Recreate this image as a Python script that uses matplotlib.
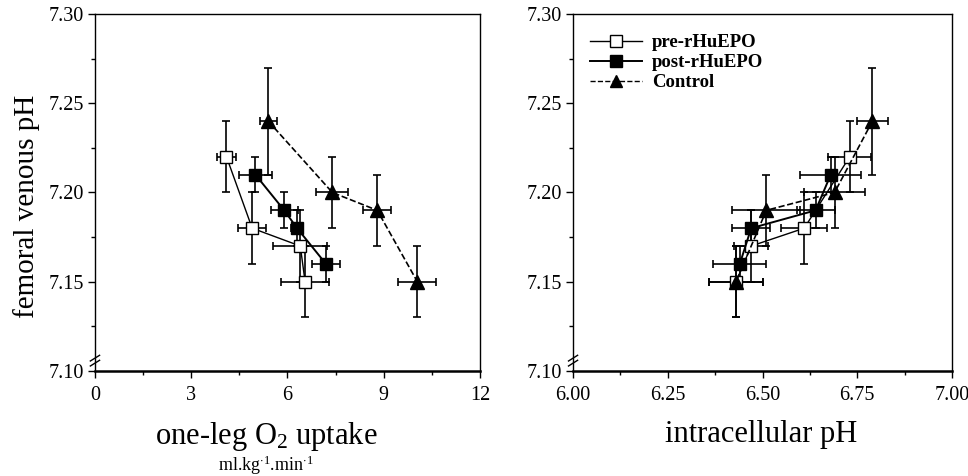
import numpy as np
import matplotlib
matplotlib.use("Agg")
import matplotlib.pyplot as plt
from matplotlib.lines import Line2D

plt.rcParams['font.family'] = ['Liberation Serif', 'DejaVu Serif']
plt.rcParams['mathtext.fontset'] = 'custom'
plt.rcParams['mathtext.rm'] = 'Liberation Serif'
plt.rcParams['mathtext.it'] = 'Liberation Serif:italic'

# femoral venous pH (shared y values)
ph_pre = [7.22, 7.18, 7.17, 7.15]
ph_pre_err = [0.02, 0.02, 0.02, 0.02]
ph_post = [7.21, 7.19, 7.18, 7.16]
ph_post_err = [0.01, 0.01, 0.01, 0.01]
ph_con = [7.24, 7.20, 7.19, 7.15]
ph_con_err = [0.03, 0.02, 0.02, 0.02]

# one-leg O2 uptake
vo2_pre = [4.1, 4.9, 6.4, 6.55]
vo2_pre_err = [0.3, 0.43, 0.84, 0.76]
vo2_post = [5.0, 5.9, 6.3, 7.2]
vo2_post_err = [0.52, 0.42, 0.2, 0.44]
vo2_con = [5.4, 7.4, 8.8, 10.05]
vo2_con_err = [0.26, 0.5, 0.44, 0.59]

# intracellular pH
phi_pre = [6.73, 6.61, 6.47, 6.43]
phi_pre_err = [0.057, 0.06, 0.045, 0.07]
phi_post = [6.68, 6.64, 6.47, 6.44]
phi_post_err = [0.08, 0.05, 0.05, 0.07]
phi_con = [6.79, 6.69, 6.51, 6.43]
phi_con_err = [0.04, 0.08, 0.09, 0.07]

labels = ['pre-rHuEPO', 'post-rHuEPO', 'Control']

fig = plt.figure(figsize=(9.68, 4.76), dpi=100)
ax1 = fig.add_axes([0.0981, 0.2206, 0.3977, 0.75])
ax2 = fig.add_axes([0.592, 0.2206, 0.3915, 0.75])

styles = [
    dict(marker='s', mfc='white', mec='black', ls='-', lw=1.0, ms=9),
    dict(marker='s', mfc='black', mec='black', ls='-', lw=1.4, ms=9),
    dict(marker='^', mfc='black', mec='black', ls='--', lw=1.2, ms=10),
]

def draw(ax, xs, xerrs):
    ys = [ph_pre, ph_post, ph_con]
    yerrs = [ph_pre_err, ph_post_err, ph_con_err]
    for x, xe, y, ye, st, lab in zip(xs, xerrs, ys, yerrs, styles, labels):
        ax.errorbar(x, y, xerr=xe, yerr=ye, color='black', ecolor='black',
                    elinewidth=1.2, capsize=3, capthick=1.2, label=lab,
                    zorder=3, **st)

    ax.set_ylim(7.10, 7.30)
    ax.set_yticks([7.10, 7.15, 7.20, 7.25, 7.30])
    ax.set_yticklabels(['7.10', '7.15', '7.20', '7.25', '7.30'])
    ax.set_yticks(np.arange(7.125, 7.30, 0.05), minor=True)
    ax.tick_params(axis='both', which='major', direction='out', length=5,
                   width=1, labelsize=14.5, pad=3)
    ax.tick_params(axis='both', which='minor', direction='out', length=3, width=1)
    ax.tick_params(axis='x', which='major', pad=6)
    for s in ['top', 'right', 'left']:
        ax.spines[s].set_linewidth(1.0)
    ax.spines['bottom'].set_linewidth(1.8)
    # axis break marks
    for yb in (0.022, 0.036):
        ax.plot([-0.012, 0.012], [yb - 0.008, yb + 0.008], color='black',
                lw=1.0, transform=ax.transAxes, clip_on=False)

draw(ax1, [vo2_pre, vo2_post, vo2_con], [vo2_pre_err, vo2_post_err, vo2_con_err])
ax1.set_xlim(0, 12)
ax1.set_xticks([0, 3, 6, 9, 12])
ax1.set_xticks([1.5, 4.5, 7.5, 10.5], minor=True)
ax1.set_ylabel('femoral venous pH', fontsize=21)
ax1.yaxis.set_label_coords(-0.142, 0.462)
ax1.set_xlabel('one-leg O$_2$ uptake', fontsize=22)
ax1.xaxis.set_label_coords(0.444, -0.138)
ax1.text(0.444, -0.265, 'ml.kg$^{\\cdot 1}$.min$^{\\cdot 1}$', transform=ax1.transAxes,
         ha='center', va='center', fontsize=13)

draw(ax2, [phi_pre, phi_post, phi_con], [phi_pre_err, phi_post_err, phi_con_err])
ax2.set_xlim(6.0, 7.0)
ax2.set_xticks([6.0, 6.25, 6.5, 6.75, 7.0])
ax2.set_xticklabels(['6.00', '6.25', '6.50', '6.75', '7.00'])
ax2.set_xticks(np.arange(6.125, 7.0, 0.25), minor=True)
ax2.set_xlabel('intracellular pH', fontsize=22)
ax2.xaxis.set_label_coords(0.495, -0.138)

# legend without error bars
handles = [
    Line2D([], [], color='black', marker='s', mfc='white', mec='black', ls='-', lw=1.0, ms=9),
    Line2D([], [], color='black', marker='s', mfc='black', mec='black', ls='-', lw=1.4, ms=9),
    Line2D([], [], color='black', marker='^', mfc='black', mec='black', ls='--', lw=1.0, ms=9),
]
ax2.legend(handles, labels, loc='upper left', frameon=False, handlelength=2.8,
           handletextpad=0.5, labelspacing=0.15, borderaxespad=0.3,
           prop={'size': 13.5, 'weight': 'bold'}, bbox_to_anchor=(0.01, 0.98))

plt.savefig('out.png', dpi=100)
